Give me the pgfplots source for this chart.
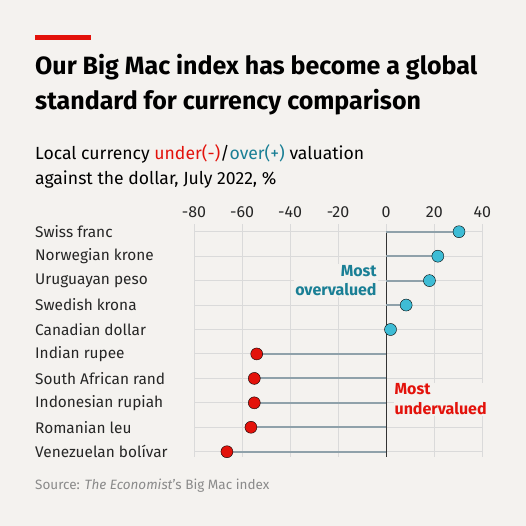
\documentclass[border=0pt]{standalone}
\usepackage{pgfplots}
\pgfplotsset{compat=1.18}
\usepackage{fontspec}
\setmainfont{Fira Sans}
\definecolor{bg}{HTML}{F4F2EF}
\definecolor{ered}{HTML}{E3120B}
\definecolor{dotblue}{HTML}{3EBCD5}
\definecolor{tealtxt}{HTML}{1A7F95}
\definecolor{stem}{HTML}{8FA1AA}
\definecolor{gridc}{HTML}{DADADA}
\definecolor{srcgray}{HTML}{8A8A8A}
\pgfplotstableread{
row val
0 30.3
1 21.5
2 18.0
3 8.3
4 1.8
}\over
\pgfplotstableread{
row val
5 -53.9
6 -54.9
7 -54.9
8 -56.3
9 -66.3
}\under
\begin{document}
\begin{tikzpicture}[x=1pt,y=1pt]
\fill[bg] (0,0) rectangle (526,526);
\fill[ered] (35,486) rectangle (90.7,491);
\node[anchor=base west,inner sep=0pt,font=\fontsize{25}{28}\selectfont\bfseries] at (35,451) {Our Big Mac index has become a global};
\node[anchor=base west,inner sep=0pt,font=\fontsize{25}{28}\selectfont\bfseries] at (35,416) {standard for currency comparison};
\node[anchor=base west,inner sep=0pt,font=\fontsize{17.6}{20}\selectfont] at (35,366.7) {Local currency \textcolor{ered}{under(-)}/\textcolor{tealtxt}{over(+)} valuation};
\node[anchor=base west,inner sep=0pt,font=\fontsize{17.6}{20}\selectfont] at (35,341) {against the dollar, July 2022, \%};
\node[anchor=base west,inner sep=0pt,font=\fontsize{13.5}{15}\selectfont,text=srcgray] at (35,36) {Source: \textit{The Economist}’s Big Mac index};
\begin{axis}[
  at={(194pt,68.9pt)}, anchor=south west,
  scale only axis, width=288.3pt, height=232.7pt,
  xmin=-80, xmax=40, ymin=-0.3, ymax=9.22, y dir=reverse,
  axis line style={draw=none},
  major tick length=0pt,
  xtick={-80,-60,-40,-20,0,20,40},
  xticklabels={-80,-60,-40,-20,0,20,40},
  xticklabel pos=top,
  xticklabel style={font=\fontsize{16}{18}\selectfont, text=black!85, inner sep=0pt, anchor=base, yshift=7pt},
  ytick={0,...,9},
  yticklabels={Swiss franc,Norwegian krone,Uruguayan peso,Swedish krona,Canadian dollar,Indian rupee,South African rand,Indonesian rupiah,Romanian leu,Venezuelan bolívar},
  yticklabel style={font=\fontsize{15.4}{17}\selectfont, text=black!85, inner sep=0pt, anchor=west, xshift=-159pt},
  grid=major, grid style={gridc, line width=1pt},
  clip=false,
]
\addplot[draw=black!80, line width=1.2pt] coordinates {(0,0) (0,9.22)};
\addplot[xcomb, draw=stem, line width=2pt, mark=none] table[x=val,y=row]{\over};
\addplot[xcomb, draw=stem, line width=2pt, mark=none] table[x=val,y=row]{\under};
\addplot[only marks, mark=*, mark size=6pt, mark options={draw=none, fill=dotblue}] table[x=val,y=row]{\over};
\addplot[only marks, mark=*, mark size=6pt, mark options={draw=none, fill=ered}] table[x=val,y=row]{\under};
\node[anchor=east, align=right, fill=bg, inner sep=1pt, text=tealtxt, font=\fontsize{16}{19.5}\selectfont\bfseries] at (axis cs:-3.5,2) {Most\\overvalued};
\node[anchor=west, align=left, fill=bg, inner sep=1pt, text=ered, font=\fontsize{16}{19.5}\selectfont\bfseries] at (axis cs:3,6.85) {Most\\undervalued};
\end{axis}
\end{tikzpicture}
\end{document}
